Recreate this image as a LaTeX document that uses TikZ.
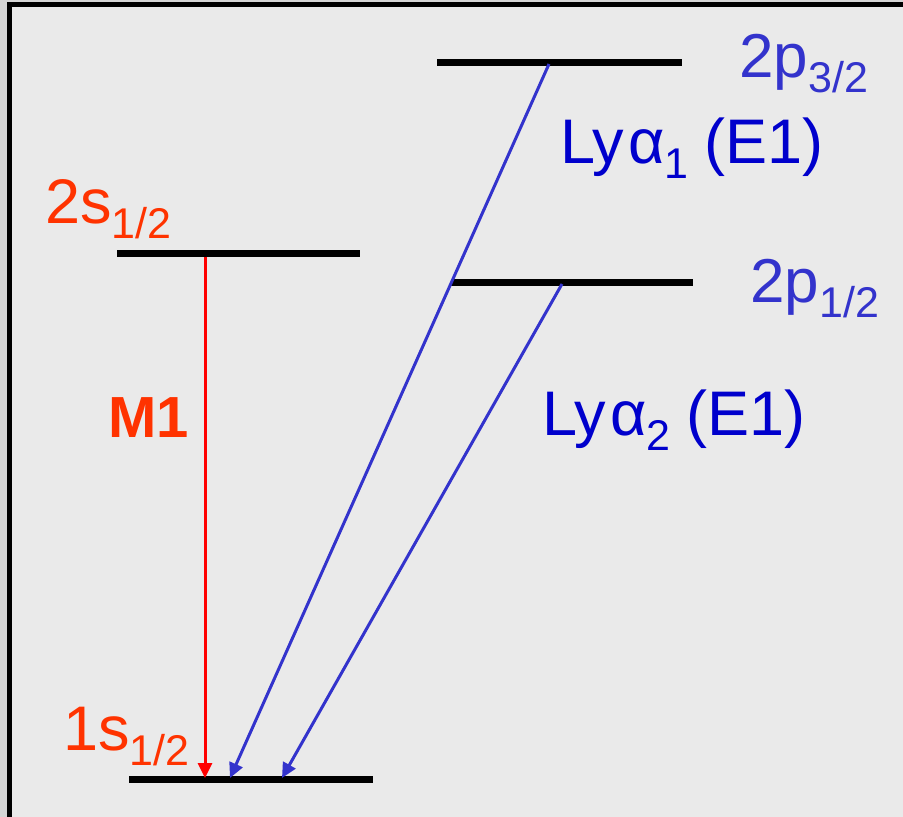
\documentclass[tikz,border=0pt]{standalone}
\usepackage{fontspec}
\setmainfont{Liberation Sans}
\usetikzlibrary{arrows.meta}
\definecolor{bgout}{HTML}{D5D5D5}
\definecolor{bgin}{HTML}{EAEAEA}
\definecolor{lvlorange}{HTML}{FF3300}
\definecolor{lvlblue}{HTML}{3333CC}
\definecolor{lyblue}{HTML}{0000CC}
\definecolor{mred}{HTML}{FF0000}
\newcommand\mysub[1]{\raisebox{-15pt}{\fontsize{43}{43}\selectfont #1}}
\tikzset{
  level/.style={line width=7pt, black},
  lbl/.style={anchor=base west, inner sep=0pt, font=\fontsize{63}{70}\selectfont},
  trans/.style={line width=3pt, -{Triangle[length=15pt,width=14pt]}},
}
\begin{document}
\begin{tikzpicture}[x=1pt,y=-1pt]
\useasboundingbox (0,0) rectangle (903,817);
\begin{scope}
\clip (0,0) rectangle (903,817);
\fill[bgout] (0,0) rectangle (903,817);
\fill[black] (7,2) rectangle (920,830);
\fill[bgin] (12,7) rectangle (920,830);
\end{scope}
% levels
\coordinate (p32a) at (437,62.5); \coordinate (p32b) at (682,62.5);
\coordinate (p12a) at (451,282.5); \coordinate (p12b) at (693,282.5);
\coordinate (s2a) at (117,253); \coordinate (s2b) at (360,253);
\coordinate (s1a) at (129,779.5); \coordinate (s1b) at (373,779.5);
\draw[level] (p32a) -- (p32b);
\draw[level] (p12a) -- (p12b);
\draw[level] (s2a) -- (s2b);
\draw[level] (s1a) -- (s1b);
% transitions
\coordinate (m1s) at (205,256.5); \coordinate (m1e) at (205,778);
\coordinate (a1s) at (549,64); \coordinate (a1e) at (230,778);
\coordinate (a2s) at (562,284); \coordinate (a2e) at (282,778);
\draw[trans, mred] (m1s) -- (m1e);
\draw[trans, lvlblue] (a1s) -- (a1e);
\draw[trans, lvlblue] (a2s) -- (a2e);
% labels
\node[lbl, lvlorange] (l2s) at (45,223) {2s\mysub{1/2}};
\node[lbl, lvlorange] (l1s) at (63,750) {1s\mysub{1/2}};
\node[lbl, lvlblue, font=\fontsize{62}{68}\selectfont] (l2p3) at (739,77) {2p\mysub{3/2}};
\node[lbl, lvlblue, font=\fontsize{62}{68}\selectfont] (l2p1) at (750,302) {2p\mysub{1/2}};
\node[lbl, lyblue] (ly1) at (560,163) {Ly\hspace{4pt}α\mysub{1}\hspace{16pt}(E1)};
\node[lbl, lyblue] (ly2) at (542,435) {Ly\hspace{4pt}α\mysub{2}\hspace{16pt}(E1)};
\node[lbl, lvlorange, font=\bfseries\fontsize{58}{62}\selectfont] (m1) at (108,437) {M1};
\end{tikzpicture}
\end{document}
